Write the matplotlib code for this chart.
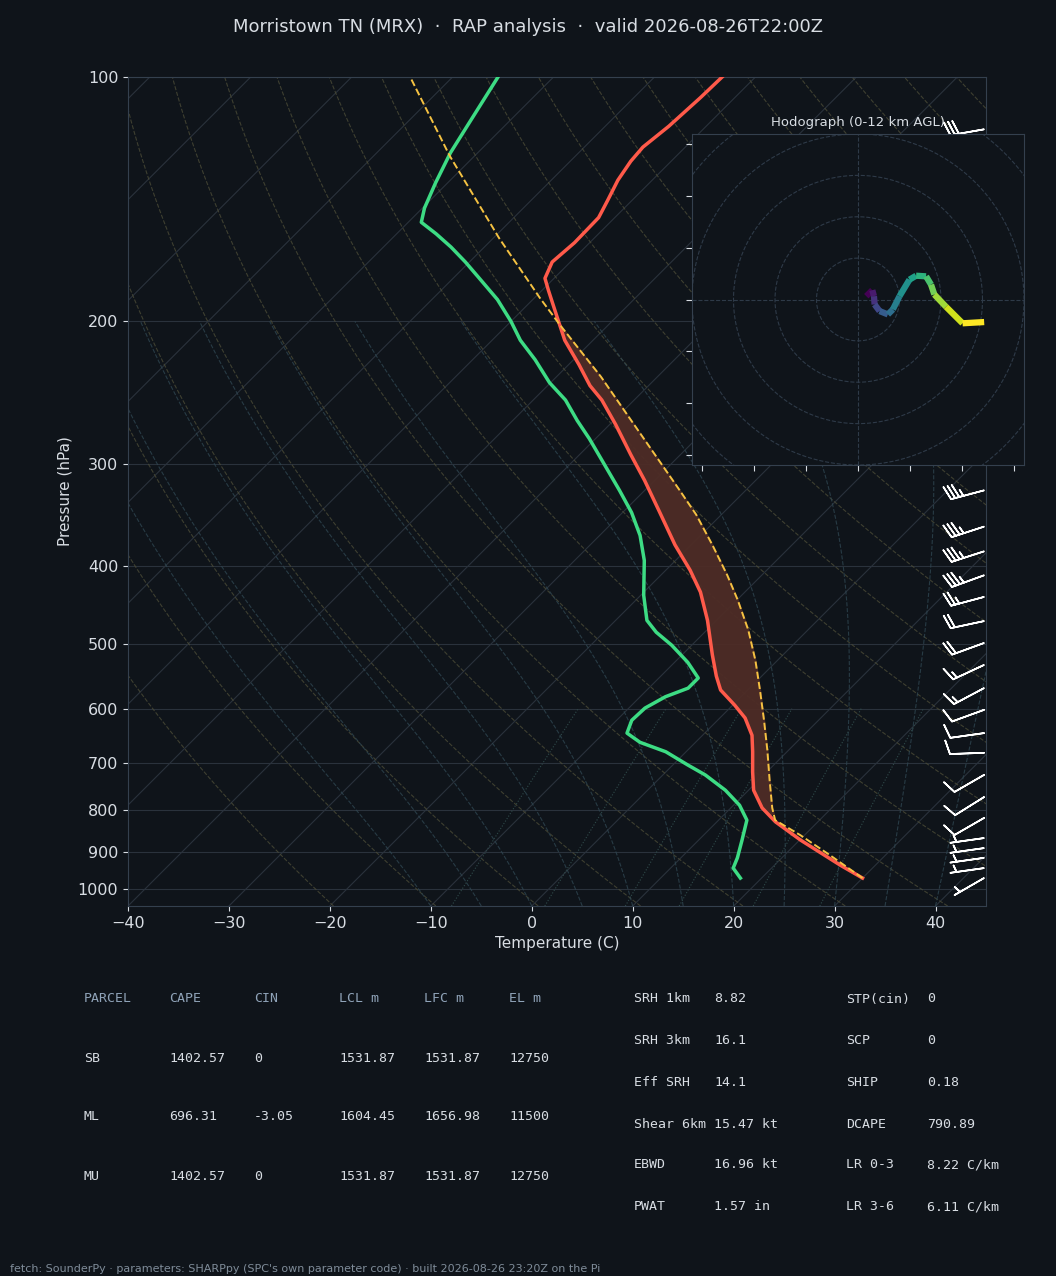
import numpy as np
import matplotlib
matplotlib.use("Agg")
import matplotlib.pyplot as plt
from matplotlib.collections import LineCollection

# ---------------- data ----------------
t_p = [970, 935, 871, 827, 795, 756, 718, 678, 647, 616, 594, 569, 547, 515, 467, 431, 405, 377,
       344, 314, 292, 268, 250, 240, 226, 211, 194, 183, 177, 169, 160, 149, 142, 134, 127, 122, 115, 106, 100]
t_T = [30.0, 26.5, 20.1, 15.8, 13.1, 10.5, 8.6, 6.6, 4.9, 2.5, 0.2, -2.7, -4.5, -7.0, -10.9, -14.4, -17.6, -21.6,
       -26.3, -31.0, -34.9, -39.4, -43.2, -45.8, -49.0, -52.8, -56.7, -59.4, -60.9, -61.8, -61.5, -61.6, -62.4,
       -63.4, -64.0, -64.2, -63.7, -63.4, -63.3]
td_p = [970, 943, 916, 871, 823, 789, 756, 724, 704, 678, 660, 643, 620, 599, 580, 566, 550, 526, 501, 483,
        467, 435, 394, 367, 344, 323, 301, 279, 265, 250, 238, 223, 211, 200, 188, 177, 169, 162, 156, 151,
        145, 135, 124, 114, 100]
td_T = [17.9, 16.2, 15.6, 14.3, 12.8, 10.6, 7.7, 4.2, 1.5, -2.0, -5.5, -7.7, -8.5, -8.4, -7.5, -6.1, -6.1,
        -8.7, -12.0, -14.8, -16.9, -19.7, -23.1, -26.0, -29.1, -32.5, -36.4, -40.6, -43.6, -46.8, -50.1, -53.8,
        -57.2, -60.0, -63.5, -67.4, -70.4, -73.3, -76.1, -78.7, -79.8, -81.2, -82.7, -83.8, -85.5]
pc_p = [970, 909, 859, 823, 795, 735, 675, 620, 569, 523, 480, 441, 411, 377, 346, 321, 259, 234,
        202, 187, 158, 125, 100]
pc_T = [30.0, 24.5, 19.6, 15.6, 14.1, 11.1, 7.9, 4.6, 1.2, -2.2, -5.9, -9.9, -13.4, -17.9, -22.5, -26.9,
        -39.6, -45.6, -54.8, -59.5, -69.4, -82.5, -94.2]

barb_p = [116, 323, 358, 384, 411, 437, 468, 498, 530, 566, 602, 643, 680, 724, 771, 818, 866, 891, 916, 943, 970]
barb_dir = [260, 255, 252, 252, 250, 255, 258, 250, 245, 242, 250, 262, 268, 240, 238, 240, 262, 262, 262, 262, 240]
barb_spd = [30, 35, 35, 35, 35, 25, 20, 20, 15, 15, 10, 10, 10, 10, 10, 10, 5, 5, 5, 5, 5]

hodo_u = [4.0, 6.9, 7.7, 8.0, 10.4, 14.4, 16.8, 20.0, 24.8, 28.0, 32.8, 35.2, 36.8, 42.4, 50.4, 60.8]
hodo_v = [1.6, 4.5, 1.6, -2.4, -5.6, -7.2, -4.8, 1.6, 9.6, 11.5, 11.2, 7.2, 2.4, -3.5, -11.5, -10.9]

tbl_head = ["PARCEL", "CAPE", "CIN", "LCL m", "LFC m", "EL m"]
tbl_rows = [["SB", "1402.57", "0", "1531.87", "1531.87", "12750"],
            ["ML", "696.31", "-3.05", "1604.45", "1656.98", "11500"],
            ["MU", "1402.57", "0", "1531.87", "1531.87", "12750"]]
idx_left = [("SRH 1km", "8.82"), ("SRH 3km", "16.1"), ("Eff SRH", "14.1"),
            ("Shear 6km", "15.47 kt"), ("EBWD", "16.96 kt"), ("PWAT", "1.57 in")]
idx_right = [("STP(cin)", "0"), ("SCP", "0"), ("SHIP", "0.18"), ("DCAPE", "790.89"),
             ("LR 0-3", "8.22 C/km"), ("LR 3-6", "6.11 C/km")]

# ---------------- style ----------------
BG = "#0f141a"
FG = "#d8dde3"
SP = "#34404e"
K = 34.94
PB = 1050.0

def sk(T, p):
    return np.asarray(T, float) + K * np.log(PB / np.asarray(p, float))

fig = plt.figure(figsize=(10.56, 12.76), dpi=100, facecolor=BG)
W, H = 1056, 1276
ax = fig.add_axes([128 / W, 1 - 906 / H, (986 - 128) / W, (906 - 77) / H])
ax.set_facecolor(BG)
ax.set_yscale("log")
ax.set_ylim(1050, 100)
ax.set_xlim(-40, 45)
pt = [100, 200, 300, 400, 500, 600, 700, 800, 900, 1000]
ax.set_yticks(pt)
ax.set_yticklabels([str(v) for v in pt])
ax.yaxis.set_minor_locator(matplotlib.ticker.NullLocator())
ax.set_xticks(range(-40, 50, 10))
ax.set_xticklabels([("\u2212%d" % -v) if v < 0 else str(v) for v in range(-40, 50, 10)])
for s in ax.spines.values():
    s.set_color(SP)
ax.tick_params(colors=FG, labelsize=11.5)
ax.set_xlabel("Temperature (C)", color=FG, fontsize=11)
ax.set_ylabel("Pressure (hPa)", color=FG, fontsize=11)
for v in pt:
    ax.axhline(v, color="#2a323c", lw=0.8, zorder=1)

pp = np.geomspace(1050, 100, 120)
for T0 in range(-160, 60, 10):
    ax.plot(sk(np.full_like(pp, T0), pp), pp, color="#2a323c", lw=0.8, zorder=1)
# dry adiabats
for th in range(250, 480, 10):
    T = th * (pp / 1000.0) ** 0.2857 - 273.15
    ax.plot(sk(T, pp), pp, color="#4a4a36", lw=0.8, ls="--", alpha=0.8, zorder=1)
# moist adiabats
def es(T):
    return 6.112 * np.exp(17.67 * T / (T + 243.5))
for T0 in range(-10, 45, 5):
    ps = [1050.0]; Ts = [float(T0)]
    p = 1050.0; T = float(T0)
    while p > 200:
        dp = -5.0
        Tk = T + 273.15
        rs = 0.622 * es(T) / (p - es(T))
        dTdp = (287.0 * Tk + 2.5e6 * rs) / (p * (1004.0 + 2.5e6 ** 2 * rs * 0.622 / (287.0 * Tk ** 2)))
        T += dTdp * dp; p += dp
        ps.append(p); Ts.append(T)
    ax.plot(sk(Ts, ps), ps, color="#2e4550", lw=0.8, ls="--", alpha=0.8, zorder=1)
# mixing ratio
pm = np.geomspace(1050, 600, 40)
for w in [2, 4, 7, 10, 16, 24]:
    e = pm * (w / 1000.0) / (0.622 + w / 1000.0)
    a = np.log(e / 6.112)
    T = 243.5 * a / (17.67 - a)
    ax.plot(sk(T, pm), pm, color="#2f4a4a", lw=0.8, ls=":", zorder=1)

# CAPE shading
pf = np.geomspace(970, 195, 300)
lp = np.log(pf)
Tt = np.interp(lp, np.log(t_p[::-1]), t_T[::-1])
Tp = np.interp(lp, np.log(pc_p[::-1]), pc_T[::-1])
ax.fill_betweenx(pf, sk(Tt, pf), sk(Tp, pf), where=(Tp > Tt) & (pf < 810), color="#4e2c26", alpha=0.95, zorder=2)

ax.plot(sk(t_T, t_p), t_p, color="#ff5a4a", lw=2.5, zorder=4)
ax.plot(sk(td_T, td_p), td_p, color="#3ddc84", lw=2.5, zorder=4)
ax.plot(sk(pc_T, pc_p), pc_p, color="#f5c242", lw=1.4, ls="--", zorder=4)

d = np.radians(barb_dir); s = np.array(barb_spd, float)
u = -s * np.sin(d); v = -s * np.cos(d)
ax.barbs(np.full(len(barb_p), 44.8), barb_p, u, v, color="white", length=7, lw=1.2, zorder=5, clip_on=False)

# hodograph
hx = fig.add_axes([692 / W, 1 - 465 / H, (1024 - 692) / W, (465 - 134) / H])
hx.set_facecolor(BG)
hx.set_xlim(-80, 80); hx.set_ylim(-80, 80)
for s_ in hx.spines.values():
    s_.set_color(SP)
tk = [-75, -50, -25, 0, 25, 50, 75]
hx.set_xticks(tk); hx.set_yticks(tk)
hx.set_xticklabels([]); hx.set_yticklabels([])
hx.tick_params(colors=FG, length=4)
th_ = np.linspace(0, 2 * np.pi, 200)
for r in [20, 40, 60, 80, 100]:
    hx.plot(r * np.cos(th_), r * np.sin(th_), color="#2e3a48", lw=0.8, ls="--")
hx.axhline(0, color="#2e3a48", lw=0.8, ls="--"); hx.axvline(0, color="#2e3a48", lw=0.8, ls="--")
pts = np.array([hodo_u, hodo_v]).T.reshape(-1, 1, 2)
segs = np.concatenate([pts[:-1], pts[1:]], axis=1)
lc = LineCollection(segs, cmap="viridis", linewidths=4.5)
lc.set_array(np.arange(len(segs)))
hx.add_collection(lc)
hx.set_title("Hodograph (0-12 km AGL)", color=FG, fontsize=9.5, pad=6)

fig.text(0.5, 1 - 27 / H, "Morristown TN (MRX)  \u00b7  RAP analysis  \u00b7  valid 2026-08-26T22:00Z",
         ha="center", va="center", color=FG, fontsize=13)

HC = "#8fa3b8"; VC = "#d8dde3"
mono = "DejaVu Sans Mono"
cx = [84, 169, 254, 339, 424, 509]
for x, t in zip(cx, tbl_head):
    fig.text(x / W, 1 - 999 / H, t, color=HC, family=mono, fontsize=9.5, va="center")
for ry, row in zip([1058, 1117, 1176], tbl_rows):
    for x, t in zip(cx, row):
        fig.text(x / W, 1 - ry / H, t, color=VC, family=mono, fontsize=9.5, va="center")
for ry, (a, b), (c, e) in zip([999, 1041, 1082, 1124, 1165, 1207], idx_left, idx_right):
    fig.text(634 / W, 1 - ry / H, a, color=VC, family=mono, fontsize=9.5, va="center")
    fig.text(714 / W, 1 - ry / H, b, color=VC, family=mono, fontsize=9.5, va="center")
    fig.text(846 / W, 1 - ry / H, c, color=VC, family=mono, fontsize=9.5, va="center")
    fig.text(927 / W, 1 - ry / H, e, color=VC, family=mono, fontsize=9.5, va="center")
fig.text(10 / W, 1 - 1269 / H,
         "fetch: SounderPy \u00b7 parameters: SHARPpy (SPC's own parameter code) \u00b7 built 2026-08-26 23:20Z on the Pi",
         color="#7f8c99", fontsize=8, va="center")

fig.savefig("out.png", dpi=100, facecolor=BG)
